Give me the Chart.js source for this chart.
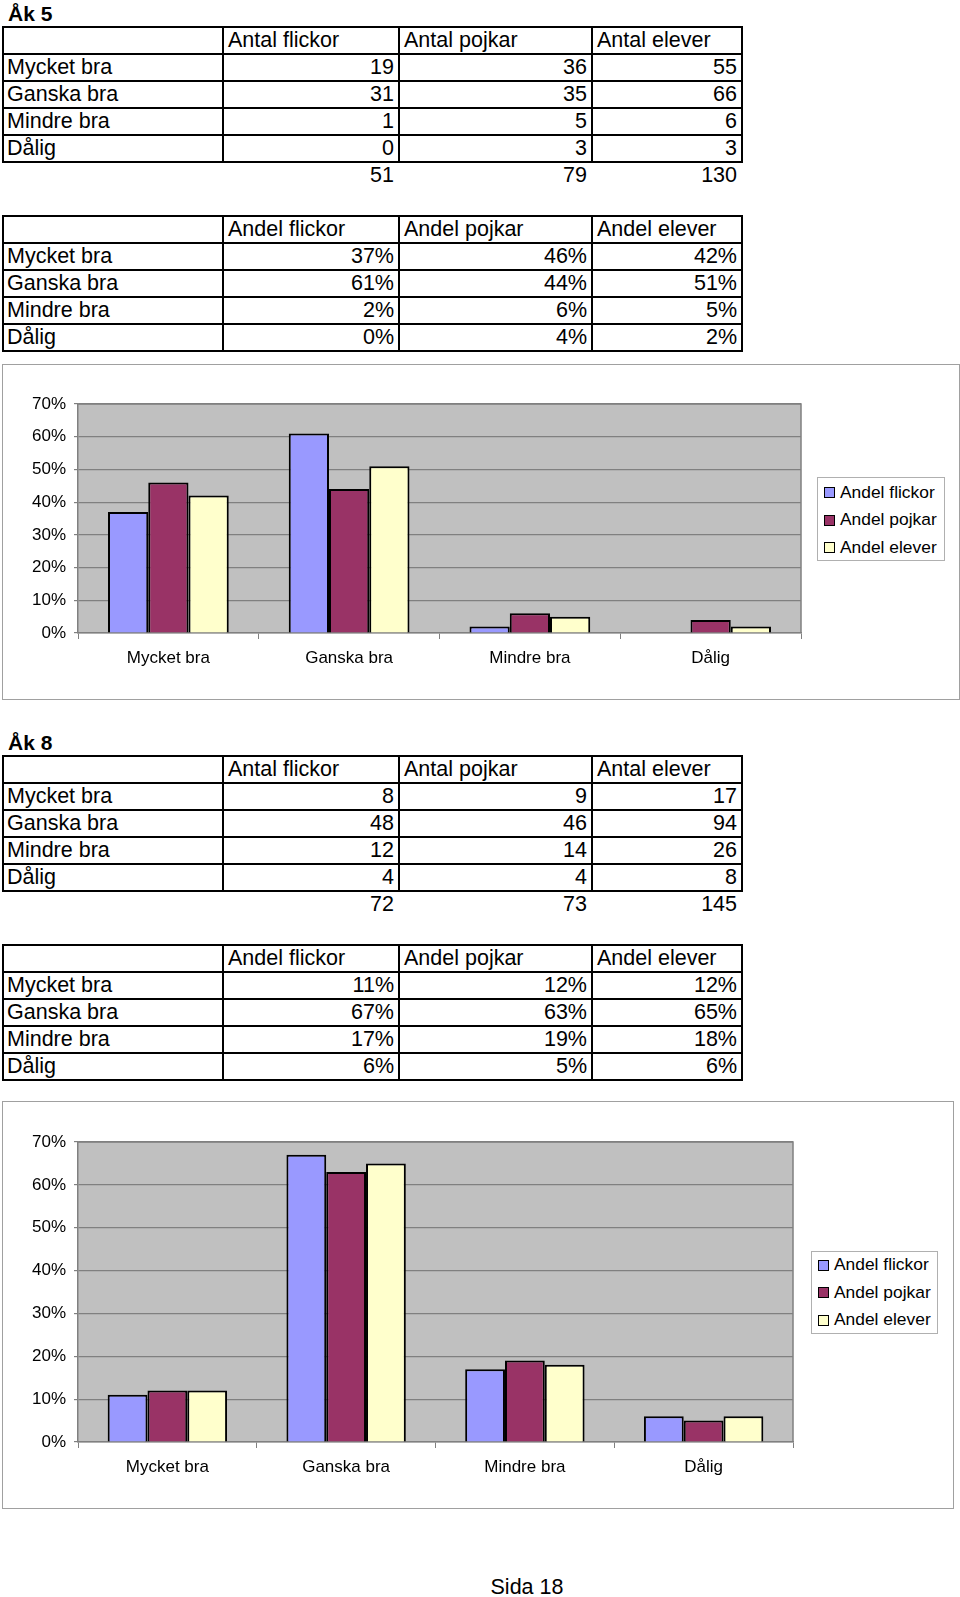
<!DOCTYPE html>
<html>
<head>
<meta charset="utf-8">
<script src="https://cdn.jsdelivr.net/npm/chart.js"></script>
<style>
  body { margin: 0; width: 960px; height: 1597px; position: relative; background: #fff; overflow: hidden;
         font-family: "Liberation Sans", Arial, sans-serif; color: #000; }
  .rubrik { position: absolute; left: 8px; font-weight: bold; font-size: 21px; line-height: 27px; }
  .cell { position: absolute; box-sizing: border-box; font-size: 21.5px; line-height: 25px; white-space: nowrap; padding: 0 4px; }
  .ram { border: 2px solid #000; }
  .tom { border: 2px solid transparent; }
  .hoger { text-align: right; }
  .forsta { padding-left: 3px; }
  .diagram { position: absolute; box-sizing: border-box; border: 1px solid #a0a0a0; background: #fff; }
  .diagram canvas { position: absolute; left: 0; top: 0; }
  .legend { position: absolute; box-sizing: border-box; border: 1px solid #b0b0b0; background: #fff; font-size: 17.4px; }
  .legend div { position: absolute; left: 22px; line-height: 27.5px; white-space: nowrap; }
  .legend span { position: absolute; width: 11px; height: 11px; box-sizing: border-box; border: 1.5px solid #000; }
  .sida { position: absolute; left: 0; width: 1054px; top: 1574px; text-align: center; font-size: 21.5px; line-height: 27px; }
</style>
</head>
<body>

<div class="rubrik" style="top:0px">Åk 5</div>
<div class="rubrik" style="top:729px">Åk 8</div>

<div class="diagram" style="left:2px; top:364px; width:958px; height:336px">
  <canvas id="diagram5" width="956" height="334"></canvas>
</div>
<div class="diagram" style="left:2px; top:1101px; width:952px; height:408px">
  <canvas id="diagram8" width="950" height="406"></canvas>
</div>

<div class="sida">Sida 18</div>

<script>
// Data läst från tabellerna och diagrammen
const kategorier = ['Mycket bra', 'Ganska bra', 'Mindre bra', 'Dålig'];
const antalRubriker = ['Antal flickor', 'Antal pojkar', 'Antal elever'];
const andelRubriker = ['Andel flickor', 'Andel pojkar', 'Andel elever'];

// Åk 5
const ak5Flickor = [19, 31, 1, 0];
const ak5Pojkar = [36, 35, 5, 3];
const ak5Elever = [55, 66, 6, 3];
const ak5Summa = [51, 79, 130];
const ak5AndelFlickor = [37, 61, 2, 0];
const ak5AndelPojkar = [46, 44, 6, 4];
const ak5AndelElever = [42, 51, 5, 2];

// Åk 8
const ak8Flickor = [8, 48, 12, 4];
const ak8Pojkar = [9, 46, 14, 4];
const ak8Elever = [17, 94, 26, 8];
const ak8Summa = [72, 73, 145];
const ak8AndelFlickor = [11, 67, 17, 6];
const ak8AndelPojkar = [12, 63, 19, 5];
const ak8AndelElever = [12, 65, 18, 6];

const yTickLabels = ['0%', '10%', '20%', '30%', '40%', '50%', '60%', '70%'];
const farger = ['#9999ff', '#993366', '#ffffcc'];

// Kolumnlinjer för tabellerna (x) och radhöjd
const kolumner = [3, 223, 399, 592, 742];
const radHojd = 27;

function cell(x1, x2, y, text, klass) {
    const d = document.createElement('div');
    d.className = 'cell ' + klass;
    d.style.left = (x1 - 1) + 'px';
    d.style.top = (y - 1) + 'px';
    d.style.width = (x2 - x1 + 2) + 'px';
    d.style.height = (radHojd + 2) + 'px';
    d.textContent = text;
    document.body.appendChild(d);
}

// Bygger en tabell: rubrikrad, en rad per kategori och ev. summarad utan ram
function byggTabell(top, rubriker, serier, summa, suffix) {
    cell(kolumner[0], kolumner[1], top, '', 'ram');
    rubriker.forEach((r, i) => cell(kolumner[i + 1], kolumner[i + 2], top, r, 'ram'));
    kategorier.forEach((kat, rad) => {
        const y = top + (rad + 1) * radHojd;
        cell(kolumner[0], kolumner[1], y, kat, 'ram forsta');
        serier.forEach((s, i) => cell(kolumner[i + 1], kolumner[i + 2], y, s[rad] + suffix, 'ram hoger'));
    });
    if (summa) {
        const y = top + 5 * radHojd;
        summa.forEach((v, i) => cell(kolumner[i + 1], kolumner[i + 2], y, v, 'tom hoger'));
    }
}

byggTabell(27, antalRubriker, [ak5Flickor, ak5Pojkar, ak5Elever], ak5Summa, '');
byggTabell(216, andelRubriker, [ak5AndelFlickor, ak5AndelPojkar, ak5AndelElever], null, '%');
byggTabell(756, antalRubriker, [ak8Flickor, ak8Pojkar, ak8Elever], ak8Summa, '');
byggTabell(945, andelRubriker, [ak8AndelFlickor, ak8AndelPojkar, ak8AndelElever], null, '%');

// Grå bakgrund och ram runt ritytan
const ritytaPlugin = {
    id: 'rityta',
    beforeDraw(chart) {
        const a = chart.chartArea;
        const ctx = chart.ctx;
        ctx.save();
        ctx.fillStyle = '#c0c0c0';
        ctx.fillRect(a.left, a.top, a.right - a.left, a.bottom - a.top);
        ctx.restore();
    },
    beforeDatasetsDraw(chart) {
        const a = chart.chartArea;
        const ctx = chart.ctx;
        ctx.save();
        ctx.strokeStyle = '#808080';
        ctx.lineWidth = 1.5;
        ctx.beginPath();
        ctx.moveTo(a.left, a.top);
        ctx.lineTo(a.right, a.top);
        ctx.lineTo(a.right, a.bottom);
        ctx.stroke();
        ctx.restore();
    }
};

function ritaDiagram(id, serier, paddingTop, paddingRight, xHojd) {
    const ctx = document.getElementById(id).getContext('2d');
    return new Chart(ctx, {
        type: 'bar',
        data: {
            labels: kategorier,
            datasets: serier.map((s, i) => ({
                label: andelRubriker[i],
                data: s,
                backgroundColor: farger[i],
                borderColor: '#000',
                borderWidth: 2,
                borderSkipped: 'start',
                categoryPercentage: 0.668,
                barPercentage: 1.0
            }))
        },
        options: {
            responsive: false,
            animation: false,
            devicePixelRatio: 1,
            layout: { padding: { top: paddingTop, right: paddingRight, left: 0, bottom: 0 } },
            plugins: { legend: { display: false }, tooltip: { enabled: false } },
            scales: {
                x: {
                    grid: { offset: true, drawOnChartArea: false, drawTicks: true, tickLength: 6, color: '#808080', lineWidth: 1 },
                    border: { color: '#808080', width: 1.5 },
                    ticks: { color: '#000', padding: 9, maxRotation: 0, font: { family: '"Liberation Sans", Arial, sans-serif', size: 17 } },
                    afterFit(scale) {
                        scale.height = xHojd;
                        scale.paddingLeft = scale.paddingRight = scale.paddingTop = scale.paddingBottom = 0;
                    }
                },
                y: {
                    min: 0,
                    max: 70,
                    ticks: {
                        stepSize: 10,
                        color: '#000',
                        padding: 8,
                        font: { family: '"Liberation Sans", Arial, sans-serif', size: 17 },
                        callback: (v) => yTickLabels[Math.round(v / 10)]
                    },
                    grid: { color: '#808080', lineWidth: 1.2, tickLength: 4 },
                    border: { color: '#808080', width: 1.5 },
                    afterFit(scale) {
                        scale.width = 75;
                        scale.paddingLeft = scale.paddingRight = scale.paddingTop = scale.paddingBottom = 0;
                    }
                }
            }
        },
        plugins: [ritytaPlugin]
    });
}

// Förklaring byggd från diagrammets dataserier
function byggLegend(chart, left, top, width, height, forstaMitt) {
    const box = document.createElement('div');
    box.className = 'legend';
    box.style.left = left + 'px';
    box.style.top = top + 'px';
    box.style.width = width + 'px';
    box.style.height = height + 'px';
    chart.data.datasets.forEach((ds, i) => {
        const mitt = forstaMitt + i * 27.5;
        const ruta = document.createElement('span');
        ruta.style.left = '6px';
        ruta.style.top = (mitt - 5.5) + 'px';
        ruta.style.background = ds.backgroundColor;
        box.appendChild(ruta);
        const text = document.createElement('div');
        text.style.top = (mitt - 13.75) + 'px';
        text.textContent = ds.label;
        box.appendChild(text);
    });
    document.body.appendChild(box);
}

const diagram5 = ritaDiagram('diagram5', [ak5AndelFlickor, ak5AndelPojkar, ak5AndelElever], 39, 158, 66);
const diagram8 = ritaDiagram('diagram8', [ak8AndelFlickor, ak8AndelPojkar, ak8AndelElever], 40, 160, 66);

byggLegend(diagram5, 817, 477, 128, 84, 14.5);
byggLegend(diagram8, 811, 1251, 127, 83, 13);
</script>
</body>
</html>
